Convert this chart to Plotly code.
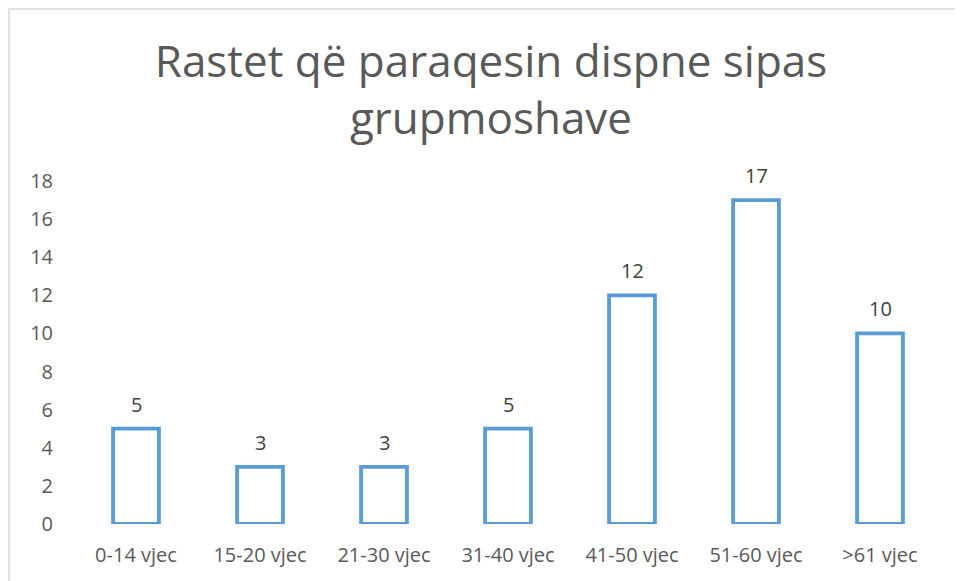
import plotly.graph_objects as go

categories = ["0-14 vjec", "15-20 vjec", "21-30 vjec", "31-40 vjec", "41-50 vjec", "51-60 vjec", ">61 vjec"]
values = [5, 3, 3, 5, 12, 17, 10]
y_ticks = [0, 2, 4, 6, 8, 10, 12, 14, 16, 18]
title_text = "Rastet që paraqesin dispne sipas<br>grupmoshave"

# page body has an 8px margin, so the figure is 8px smaller and offset
OFF = 8
W, H = 963 - OFF, 581 - OFF
ml, mr, mt, mb = 74 - OFF, 21, 181 - OFF, 581 - 524
pw, ph = W - ml - mr, H - mt - mb

def px_x(x):
    return (x - OFF - ml) / pw

def px_y(y):
    return (H - mb - (y - OFF)) / ph

FONT = "Open Sans"

fig = go.Figure(go.Bar(
    x=categories, y=values,
    marker=dict(color="white", line=dict(color="#5B9BD5", width=3.8)),
    width=0.37, hoverinfo="x+y",
))

for c, v in zip(categories, values):
    fig.add_annotation(x=c, y=v, text=str(v), showarrow=False, yanchor="bottom",
                       yshift=9, font=dict(family=FONT, size=20, color="#404040"))

fig.update_layout(
    width=W, height=H,
    margin=dict(l=ml, r=mr, t=mt, b=mb, autoexpand=False),
    paper_bgcolor="white", plot_bgcolor="white",
    font=dict(family=FONT, color="#595959"),
    title=dict(text=title_text, x=px_x(491), xanchor="center", xref="paper",
               y=1 - 69 / H, yanchor="top", yref="container",
               font=dict(family=FONT, size=44, color="#595959")),
    xaxis=dict(showgrid=False, showline=False, ticks="", automargin=False,
               tickfont=dict(size=20, color="#595959"), ticklabelstandoff=17),
    yaxis=dict(range=[0, 18], tickvals=y_ticks, showgrid=False, zeroline=False, automargin=False,
               showline=False, ticks="", tickfont=dict(size=20, color="#595959"), ticklabelstandoff=20),
    showlegend=False,
    shapes=[dict(type="rect", xref="paper", yref="paper",
                 x0=px_x(9), x1=px_x(985), y0=px_y(620), y1=px_y(9),
                 line=dict(color="#D9D9D9", width=1.5), fillcolor="rgba(0,0,0,0)", layer="below")],
)

fig.write_html("out.html")
